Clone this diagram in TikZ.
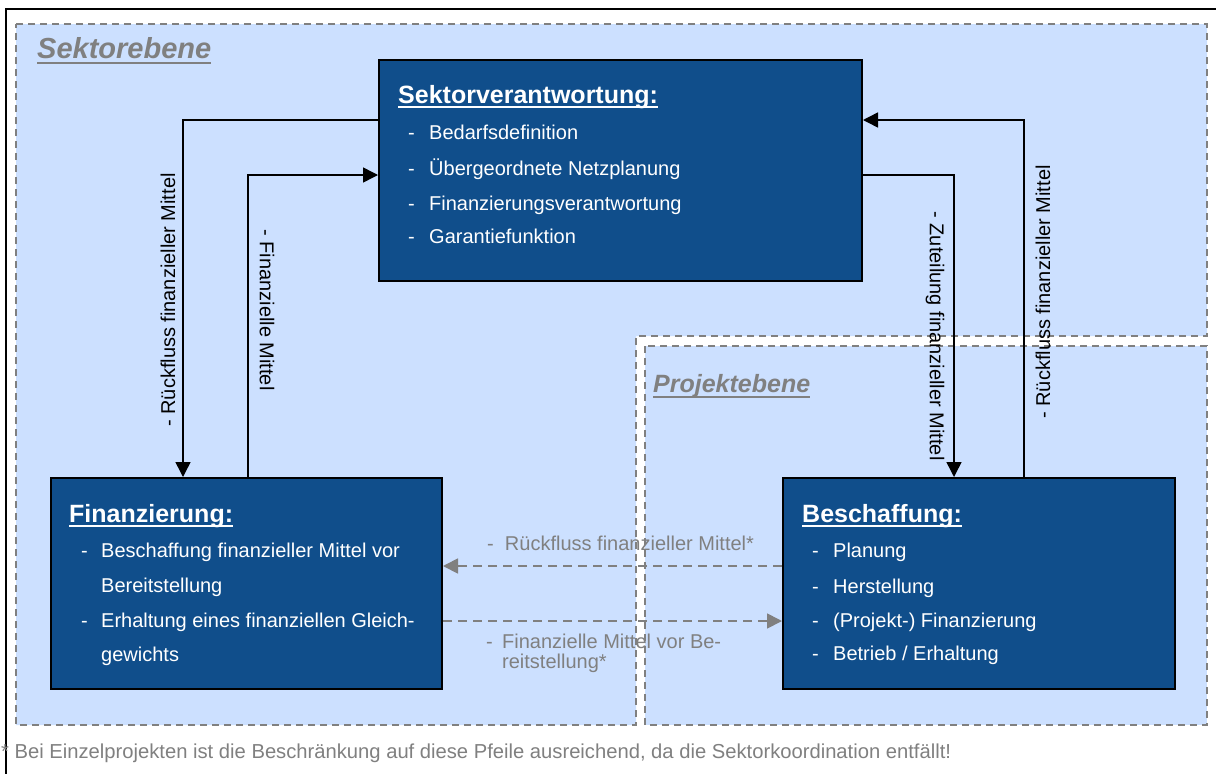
\documentclass[tikz,border=0pt]{standalone}
\usepackage{fontspec}
\setmainfont{Liberation Sans}
\usetikzlibrary{arrows.meta}
\definecolor{lightbg}{RGB}{204,224,255}
\definecolor{boxblue}{RGB}{16,78,139}
\definecolor{dgray}{RGB}{128,128,128}
\tikzset{
  region/.style={fill=lightbg, draw=dgray, line width=1.6pt, dash pattern=on 7pt off 5pt},
  bbox/.style={draw=black, fill=boxblue, line width=2pt, anchor=north west, inner sep=0pt},
  ttl/.style={anchor=base west, inner sep=0pt, text=white, font=\bfseries\fontsize{25}{30}\selectfont},
  itm/.style={anchor=base west, inner sep=0pt, text=white, font=\fontsize{20}{24}\selectfont},
  lbl/.style={inner sep=0pt, text=black, font=\fontsize{20}{24}\selectfont},
  glbl/.style={anchor=base west, inner sep=0pt, text=dgray, font=\fontsize{20}{24}\selectfont},
  rgn/.style={anchor=base west, inner sep=0pt, text=dgray, font=\bfseries\itshape},
  conn/.style={draw=black, line width=1.5pt, -{Triangle[length=15pt,width=15pt]}},
  darrow/.style={draw=dgray, line width=1.8pt, dash pattern=on 9pt off 6pt, -{Triangle[length=15pt,width=15pt]}},
}
\begin{document}
\begin{tikzpicture}[x=1pt,y=-1pt]
\useasboundingbox (0,0) rectangle (1216,774);
\fill[white] (0,0) rectangle (1216,774);
\draw[line width=2.5pt] (6,780) -- (6,9) -- (1222,9);

% regions
\draw[region] (16,24) -- (1207,24) -- (1207,336) -- (636,336) -- (636,725) -- (16,725) -- cycle;
\draw[region] (645,346) rectangle (1207,725);
\node[rgn, font=\bfseries\itshape\fontsize{29}{34}\selectfont] (rs) at (37,58) {Sektorebene};
\draw[dgray, line width=2.5pt] ([yshift=-5pt]rs.base west) -- ([yshift=-5pt]rs.base east);
\node[rgn, font=\bfseries\itshape\fontsize{25}{30}\selectfont] (rp) at (653,392) {Projektebene};
\draw[dgray, line width=2.5pt] ([yshift=-5pt]rp.base west) -- ([yshift=-5pt]rp.base east);

% boxes
\node[bbox, minimum width=483pt, minimum height=221pt] (sek) at (378,59) {};
\node[bbox, minimum width=391pt, minimum height=211pt] (fin) at (50,477) {};
\node[bbox, minimum width=392pt, minimum height=211pt] (bes) at (782,477) {};

% Sektorverantwortung
\node[ttl] (st) at (398,103) {Sektorverantwortung:};
\draw[white, line width=2pt] ([yshift=-4pt]st.base west) -- ([yshift=-4pt]st.base east);
\node[itm] (sd1) at (408,139) {-};
\node[itm] (s1) at (429,139) {Bedarfsdefinition};
\node[itm] (sd2) at (408,175) {-};
\node[itm] (s2) at (429,175) {Übergeordnete Netzplanung};
\node[itm] (sd3) at (408,210) {-};
\node[itm] (s3) at (429,210) {Finanzierungsverantwortung};
\node[itm] (sd4) at (408,243) {-};
\node[itm] (s4) at (429,243) {Garantiefunktion};

% Finanzierung
\node[ttl] (ft) at (69,522) {Finanzierung:};
\draw[white, line width=2pt] ([yshift=-4pt]ft.base west) -- ([yshift=-4pt]ft.base east);
\node[itm] (fd1) at (81,557) {-};
\node[itm] (f1) at (101,557) {Beschaffung finanzieller Mittel vor};
\node[itm] (f1b) at (101,592) {Bereitstellung};
\node[itm] (fd2) at (81,627) {-};
\node[itm] (f2) at (101,627) {Erhaltung eines finanziellen Gleich-};
\node[itm] (f2b) at (101,661) {gewichts};

% Beschaffung
\node[ttl] (bt) at (802,522) {Beschaffung:};
\draw[white, line width=2pt] ([yshift=-4pt]bt.base west) -- ([yshift=-4pt]bt.base east);
\node[itm] (bd1) at (812,557) {-};
\node[itm] (b1) at (833,557) {Planung};
\node[itm] (bd2) at (812,593) {-};
\node[itm] (b2) at (833,593) {Herstellung};
\node[itm] (bd3) at (812,627) {-};
\node[itm] (b3) at (833,627) {(Projekt-) Finanzierung};
\node[itm] (bd4) at (812,660) {-};
\node[itm] (b4) at (833,660) {Betrieb / Erhaltung};

% solid connectors
\draw[conn] ([yshift=-61pt]sek.north west) -| ([xshift=133pt]fin.north west);
\draw[conn] ([xshift=198pt]fin.north west) |- ([yshift=-116pt]sek.north west);
\draw[conn] ([yshift=-116pt]sek.north east) -| ([xshift=172pt]bes.north west);
\draw[conn] ([xshift=242pt]bes.north west) |- ([yshift=-61pt]sek.north east);

\node[lbl, rotate=90] (l1) at (168,300) {- Rückfluss finanzieller Mittel};
\node[lbl, rotate=-90] (l2) at (267,310) {- Finanzielle Mittel};
\node[lbl, rotate=-90] (l3) at (935,336) {- Zuteilung finanzieller Mittel};
\node[lbl, rotate=90] (l4) at (1043,292) {- Rückfluss finanzieller Mittel};

% dashed connectors
\draw[darrow] ([yshift=-89pt]bes.north west) -- ([yshift=-89pt]fin.north east);
\draw[darrow] ([yshift=-144pt]fin.north east) -- ([yshift=-144pt]bes.north west);
\node[glbl] (g1) at (487,550) {-\ \ Rückfluss finanzieller Mittel*};
\node[glbl] (g2d) at (486,648) {-};
\node[glbl] (g2) at (502,648) {Finanzielle Mittel vor Be-};
\node[glbl] (g2b) at (502,668) {reitstellung*};

% footnote
\node[glbl, font=\fontsize{20.2}{24}\selectfont] (fn) at (1,758) {* Bei Einzelprojekten ist die Beschränkung auf diese Pfeile ausreichend, da die Sektorkoordination entfällt!};
\end{tikzpicture}
\end{document}
